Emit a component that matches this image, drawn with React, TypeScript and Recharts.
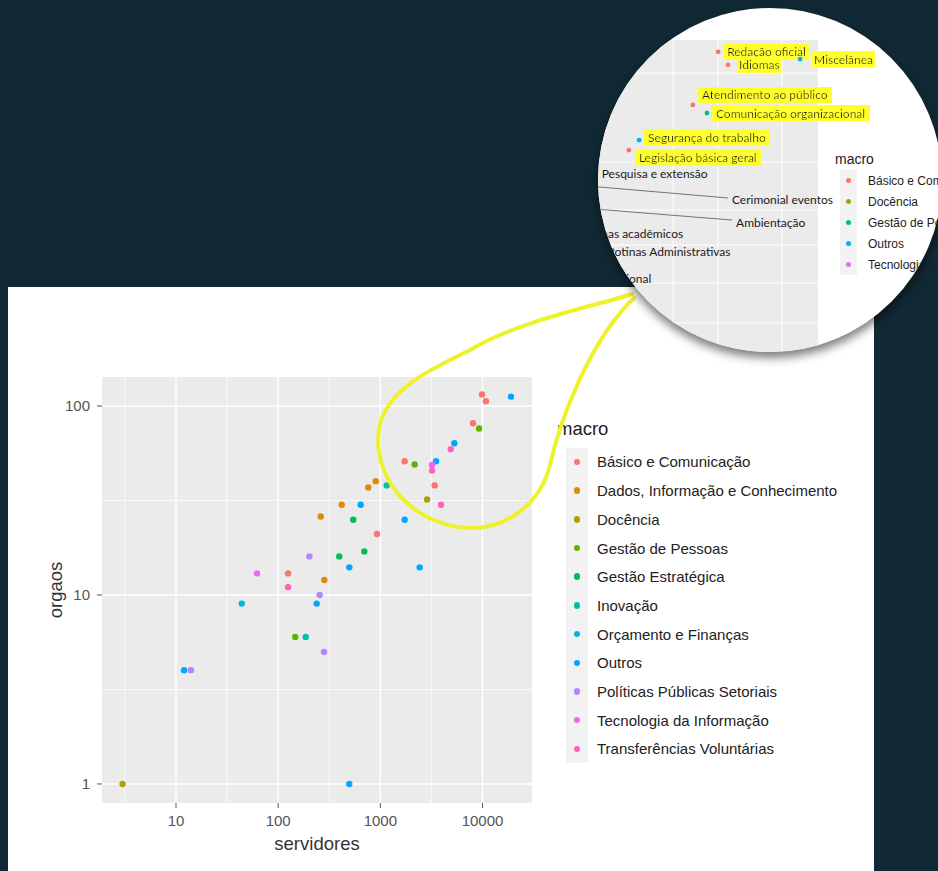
import React from 'react';
import { CartesianGrid, Label, Legend, Scatter, ScatterChart, XAxis, YAxis } from 'recharts';

const FONT = '"Liberation Sans", Arial, sans-serif';
const LABEL_FONT = 'Lato, "Open Sans", sans-serif';

// main chart: [servidores, orgaos] per macro
const macros = [
  'Básico e Comunicação',
  'Dados, Informação e Conhecimento',
  'Docência',
  'Gestão de Pessoas',
  'Gestão Estratégica',
  'Inovação',
  'Orçamento e Finanças',
  'Outros',
  'Políticas Públicas Setoriais',
  'Tecnologia da Informação',
  'Transferências Voluntárias',
];
const macroColors = ['#F8766D', '#DB8E00', '#AEA200', '#64B200', '#00BD5C', '#00C1A7', '#00BADE', '#00A6FF', '#B385FF', '#EF67EB', '#FF63B6'];

const basicoComunicacao = [[125, 13], [927, 21], [1730, 51], [3400, 38], [8070, 81], [9890, 115], [10800, 106]];
const dadosInformacao = [[283, 12], [261, 26], [419, 30], [762, 37], [901, 40]];
const docencia = [[3, 1], [2864, 32]];
const gestaoPessoas = [[147, 6], [2168, 49], [9247, 76]];
const gestaoEstrategica = [[396, 16], [543, 25], [697, 17]];
const inovacao = [[186, 6], [1154, 38]];
const orcamentoFinancas = [[44, 9]];
const outros = [[12, 4], [238, 9], [497, 1], [497, 14], [642, 30], [1730, 25], [2427, 14], [3508, 51], [5300, 63.5], [19000, 112]];
const politicasPublicas = [[14, 4], [202, 16], [255, 10], [281, 5]];
const tecnologiaInformacao = [[62, 13], [3206, 48.7]];
const transferencias = [[125, 11], [3206, 45.5], [3926, 30], [4886, 59]];

const series = [basicoComunicacao, dadosInformacao, docencia, gestaoPessoas, gestaoEstrategica, inovacao,
  orcamentoFinancas, outros, politicasPublicas, tecnologiaInformacao, transferencias];

const xTicks = [10, 100, 1000, 10000];
const xMinor = [3.162, 31.62, 316.2, 3162];
const yTicks = [1, 10, 100];
const yMinor = [3.162, 31.62];

// zoomed inset (relative units of the magnified view)
const insetMacros = ['Básico e Comunicação', 'Docência', 'Gestão de Pessoas', 'Outros', 'Tecnologia da Informação'];
const insetColors = ['#F8766D', '#A3A500', '#00BF7D', '#00B0F6', '#E76BF3'];
const insetBasico = [
  { x: 68.8, y: 96.2, label: 'Redação oficial' },
  { x: 71.9, y: 92.0, label: 'Idiomas' },
  { x: 60.9, y: 79.2, label: 'Atendimento ao público' },
  { x: 40.9, y: 64.7, label: 'Legislação básica geral' },
  { x: 13.1, y: 54.5, label: 'Cerimonial eventos' },
  { x: 31.4, y: 32.1, label: 'Rotinas Administrativas' },
];
const insetDocencia = [
  { x: 29.6, y: 57.1, label: 'Pesquisa e extensão' },
  { x: 20.6, y: 38.1, label: 'Sistemas acadêmicos' },
  { x: 9.7, y: 23.7, label: 'Educação profissional' },
];
const insetGestaoPessoas = [
  { x: 65.3, y: 76.6, label: 'Comunicação organizacional' },
  { x: 14.7, y: 47.1, label: 'Ambientação' },
];
const insetOutros = [
  { x: 94.4, y: 93.9, label: 'Miscelânea' },
  { x: 44.1, y: 67.9, label: 'Segurança do trabalho' },
];
const insetTecnologia: { x: number; y: number; label: string }[] = [];
const insetSeries = [insetBasico, insetDocencia, insetGestaoPessoas, insetOutros, insetTecnologia];
const highlighted = ['Redação oficial', 'Idiomas', 'Miscelânea', 'Atendimento ao público',
  'Comunicação organizacional', 'Segurança do trabalho', 'Legislação básica geral'];
const insetGridX = [54.7, 68.75, 78.75, 88.75];
const insetGridY = [89.4, 60.9, 45.5, 34.3, 22.1, 9.3];

const nudge: Record<string, [number, number]> = {
  'Idiomas': [11, 0],
  'Miscelânea': [14, 0],
  'Atendimento ao público': [9, -10],
  'Segurança do trabalho': [9, -3],
  'Legislação básica geral': [10, 7],
  'Cerimonial eventos': [192, 18],
  'Ambientação': [191, 17],
};

function Dot(props: any) {
  const { cx, cy, fill } = props;
  if (cx == null || cy == null) return null;
  return <circle cx={cx} cy={cy} r={3.2} fill={fill} />;
}

function InsetPoint(props: any) {
  const { cx, cy, fill, payload } = props;
  if (cx == null || cy == null) return null;
  const [dx, dy] = nudge[payload.label] ?? [9, 0];
  const hl = highlighted.includes(payload.label);
  return (
    <g>
      {dx > 40 && <line x1={cx} y1={cy} x2={cx + dx - 4} y2={cy + dy - 2} stroke="#666" strokeWidth={0.9} />}
      <circle cx={cx} cy={cy} r={2.4} fill={fill} />
      <text x={cx + dx} y={cy + dy} dominantBaseline="central" fontSize={12} fontFamily={LABEL_FONT}
        fill="#1a1a1a" filter={hl ? 'url(#hl)' : undefined}>{payload.label}</text>
    </g>
  );
}

function MainLegend() {
  return (
    <div style={{ fontFamily: FONT, color: '#222' }}>
      <div style={{ fontSize: 18.5, lineHeight: '22px', height: 29.6 }}>macro</div>
      <div style={{ position: 'relative' }}>
        <div style={{ position: 'absolute', left: 9, top: 0, width: 22, height: 11 * 28.7, background: '#F2F2F2' }} />
        {macros.map((m, i) => (
          <div key={m} style={{ position: 'relative', height: 28.7, display: 'flex', alignItems: 'center', whiteSpace: 'nowrap' }}>
            <span style={{ width: 22, marginLeft: 9, display: 'flex', justifyContent: 'center' }}>
              <span style={{ width: 6.4, height: 6.4, borderRadius: '50%', background: macroColors[i] }} />
            </span>
            <span style={{ marginLeft: 9, fontSize: 15 }}>{m}</span>
          </div>
        ))}
      </div>
    </div>
  );
}

function InsetLegend() {
  return (
    <div style={{ position: 'absolute', left: 237, top: 142, fontFamily: FONT, color: '#222', whiteSpace: 'nowrap' }}>
      <div style={{ fontSize: 14, lineHeight: '18px', height: 20 }}>macro</div>
      <div style={{ position: 'relative' }}>
        <div style={{ position: 'absolute', left: 5, top: 0, width: 17, height: 5 * 21, background: '#F2F2F2' }} />
        {insetMacros.map((m, i) => (
          <div key={m} style={{ position: 'relative', height: 21, display: 'flex', alignItems: 'center' }}>
            <span style={{ width: 17, marginLeft: 5, display: 'flex', justifyContent: 'center' }}>
              <span style={{ width: 5, height: 5, borderRadius: '50%', background: insetColors[i] }} />
            </span>
            <span style={{ marginLeft: 11, fontSize: 12 }}>{m}</span>
          </div>
        ))}
      </div>
    </div>
  );
}

const xTitle = (p: any) => {
  const vb = p.viewBox;
  return <text x={vb.x + vb.width / 2} y={vb.y + 47} textAnchor="middle" fontSize={18.5} fontFamily={FONT} fill="#333">servidores</text>;
};
const yTitle = (p: any) => {
  const vb = p.viewBox;
  const x = vb.x + 13;
  const y = vb.y + vb.height / 2;
  return <text x={x} y={y} transform={`rotate(-90, ${x}, ${y})`} textAnchor="middle" dominantBaseline="central" fontSize={18.5} fontFamily={FONT} fill="#333">orgaos</text>;
};

export default function App() {
  const tick = { fill: '#555', fontSize: 15, fontFamily: FONT };
  return (
    <div style={{ position: 'absolute', left: 0, top: 0, width: 938, height: 871, background: '#112934', overflow: 'hidden' }}>
      <svg width={0} height={0} style={{ position: 'absolute' }}>
        <defs>
          <filter id="hl" x="-0.03" y="0" width="1.06" height="1">
            <feFlood floodColor="#FFFF2E" />
            <feComposite in="SourceGraphic" operator="over" />
          </filter>
        </defs>
      </svg>
      <div style={{ position: 'absolute', left: 8, top: 287, width: 866, height: 584, background: '#fff' }} />
      <div style={{ position: 'absolute', left: 0, top: 0 }}>
        <ScatterChart width={938} height={871} margin={{ top: 377, right: 406, bottom: 18, left: 42 }}>
          <CartesianGrid fill="#EBEBEB" stroke="#fff" strokeWidth={0.7} verticalValues={xMinor} horizontalValues={yMinor} />
          <CartesianGrid stroke="#fff" strokeWidth={1.4} verticalValues={xTicks} horizontalValues={yTicks} />
          <XAxis type="number" dataKey="x" scale="log" domain={[1.887, 30500]} allowDataOverflow ticks={xTicks}
            height={50} axisLine={false} tickLine={{ stroke: '#555' }} tickSize={5} tickMargin={7} tick={tick}>
            <Label content={xTitle} />
          </XAxis>
          <YAxis type="number" dataKey="y" scale="log" domain={[0.793, 142.3]} allowDataOverflow ticks={yTicks}
            width={60} axisLine={false} tickLine={{ stroke: '#555' }} tickSize={5} tickMargin={7} tick={tick}>
            <Label content={yTitle} />
          </YAxis>
          <Legend layout="vertical" align="center" verticalAlign="middle" wrapperStyle={{ left: 557, top: 418 }} content={() => <MainLegend />} />
          {series.map((s, i) => (
            <Scatter key={macros[i]} name={macros[i]} data={s.map(([x, y]) => ({ x, y }))} fill={macroColors[i]}
              shape={Dot} isAnimationActive={false} />
          ))}
        </ScatterChart>
      </div>
      <svg width={938} height={871} style={{ position: 'absolute', left: 0, top: 0, pointerEvents: 'none' }}>
        <path d="M 632 294 C 600 305, 520 320, 470 350 C 430 370, 395 385, 381 420 C 369 462, 395 512, 452 526 C 502 536, 540 505, 550 465 C 560 420, 590 340, 634 298"
          fill="none" stroke="#EEF22B" strokeWidth={4} strokeLinecap="round" />
      </svg>
      <div style={{ position: 'absolute', left: 598, top: 8, width: 344, height: 344, borderRadius: '50%', overflow: 'hidden',
        background: '#fff', boxShadow: '0 6px 10px rgba(0,0,0,0.5)' }}>
        <div style={{ position: 'absolute', left: -100, top: 0 }}>
          <ScatterChart width={444} height={344} margin={{ top: 32, right: 124, bottom: 0, left: 0 }}>
            <CartesianGrid fill="#EBEBEB" stroke="#fff" strokeWidth={1} verticalValues={insetGridX} horizontalValues={insetGridY} />
            <XAxis type="number" dataKey="x" domain={[0, 100]} hide />
            <YAxis type="number" dataKey="y" domain={[0, 100]} hide />
            {insetSeries.map((s, i) => (
              <Scatter key={insetMacros[i]} name={insetMacros[i]} data={s} fill={insetColors[i]}
                shape={InsetPoint} isAnimationActive={false} />
            ))}
          </ScatterChart>
        </div>
        <InsetLegend />
      </div>
    </div>
  );
}
